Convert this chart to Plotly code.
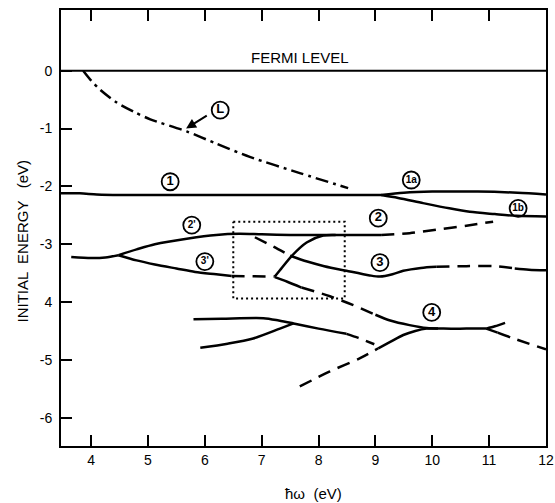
import plotly.graph_objects as go

# ---------------- data ----------------
fermi_x = [3.47, 12.0]
fermi_y = [0.0, 0.0]

L_x = [3.86, 4.0, 4.16, 4.45, 4.75, 5.04, 5.68, 6.2, 6.79, 7.67, 8.52]
L_y = [0.0, -0.17, -0.33, -0.55, -0.71, -0.84, -1.05, -1.26, -1.49, -1.77, -2.03]

band1_x = [3.47, 3.8, 4.1, 4.5, 5.5, 6.5, 7.5, 8.5, 9.1]
band1_y = [-2.12, -2.12, -2.14, -2.15, -2.15, -2.15, -2.15, -2.15, -2.15]
band1a_x = [9.1, 9.5, 10.0, 10.8, 11.5, 12.0]
band1a_y = [-2.15, -2.11, -2.09, -2.09, -2.11, -2.14]
band1b_x = [9.1, 9.4, 9.84, 10.3, 10.66, 11.1, 11.48, 12.0]
band1b_y = [-2.15, -2.2, -2.29, -2.38, -2.44, -2.48, -2.51, -2.52]

band23_x = [3.65, 4.0, 4.25, 4.48]
band23_y = [-3.22, -3.24, -3.23, -3.19]
band2p_x = [4.48, 4.8, 5.12, 5.71, 6.2, 6.6, 7.0, 7.5, 8.1, 8.6, 9.1]
band2p_y = [-3.19, -3.09, -3.0, -2.9, -2.84, -2.82, -2.83, -2.84, -2.84, -2.84, -2.84]
band2_dash_x = [9.1, 9.6, 10.07, 10.6, 11.07]
band2_dash_y = [-2.84, -2.81, -2.75, -2.68, -2.61]

band3p_x = [4.48, 4.8, 5.12, 5.5, 5.83, 6.2, 6.47]
band3p_y = [-3.19, -3.28, -3.35, -3.42, -3.48, -3.52, -3.55]
band3p_dash_x = [6.47, 7.23]
band3p_dash_y = [-3.55, -3.56]

steep_x = [7.23, 7.32, 7.53, 7.79, 8.08, 8.3]
steep_y = [-3.56, -3.45, -3.2, -2.97, -2.85, -2.84]

down_x = [7.23, 7.45, 7.7]
down_y = [-3.57, -3.65, -3.75]
down_dash_x = [7.7, 8.2, 8.6, 9.0]
down_dash_y = [-3.75, -3.9, -4.05, -4.22]
band4u_x = [9.0, 9.26, 9.6, 9.9, 10.2, 10.6, 10.95]
band4u_y = [-4.22, -4.32, -4.40, -4.45, -4.46, -4.46, -4.46]

band3_dash1_x = [6.88, 7.2, 7.5]
band3_dash1_y = [-2.88, -3.04, -3.2]
band3_x = [7.5, 7.8, 8.1, 8.49, 8.9, 9.08, 9.3, 9.49, 9.8, 10.07]
band3_y = [-3.2, -3.3, -3.38, -3.46, -3.54, -3.56, -3.52, -3.46, -3.41, -3.39]
band3_dash2_x = [10.07, 10.6, 11.1, 11.45]
band3_dash2_y = [-3.39, -3.38, -3.38, -3.42]
band3_end_x = [11.45, 11.7, 12.0]
band3_end_y = [-3.42, -3.44, -3.45]

band4a_x = [5.8, 6.3, 7.03, 7.3, 7.56, 8.0, 8.49]
band4a_y = [-4.30, -4.29, -4.28, -4.32, -4.37, -4.46, -4.55]
band4a_dash_x = [8.49, 8.7, 8.98]
band4a_dash_y = [-4.55, -4.62, -4.73]
band4b_x = [5.92, 6.4, 6.85, 7.32, 7.56]
band4b_y = [-4.79, -4.72, -4.63, -4.46, -4.37]
band4c_dash_x = [7.67, 8.2, 8.73, 9.05]
band4c_dash_y = [-5.46, -5.2, -4.97, -4.80]
band4c_x = [9.05, 9.26, 9.49, 9.7, 9.9, 10.1]
band4c_y = [-4.80, -4.69, -4.57, -4.50, -4.46, -4.46]
band4r_up_x = [10.95, 11.1, 11.28]
band4r_up_y = [-4.46, -4.42, -4.36]
band4r_dn_x = [10.95, 11.15]
band4r_dn_y = [-4.46, -4.53]
band4r_dash_x = [11.15, 11.4, 12.0]
band4r_dash_y = [-4.53, -4.62, -4.82]

box_x = [6.5, 8.46, 8.46, 6.5, 6.5]
box_y = [-2.61, -2.61, -3.94, -3.94, -2.61]

label_text = ["L", "1", "1a", "1b", "2'", "3'", "2", "3", "4"]
label_x = [6.27, 5.39, 9.63, 11.51, 5.77, 6.0, 9.05, 9.08, 9.99]
label_y = [-0.68, -1.92, -1.89, -2.38, -2.67, -3.30, -2.55, -3.32, -4.18]

arrow_head = (5.67, -1.0)
arrow_tail = (6.06, -0.76)

x_ticks = [4, 5, 6, 7, 8, 9, 10, 11, 12]
y_ticks = [0, -1, -2, -3, -4, -5, -6]
y_tick_text = ["0", "-1", "-2", "-3", "4", "-5", "-6"]

x_range = [3.47, 12.0]
y_range = [-6.49, 1.05]

# ---------------- figure ----------------
FONT = "Liberation Sans, Arial, sans-serif"
SOLID = dict(color="black", width=2.5)
DASH = dict(color="black", width=2.5, dash="13px,8px")

fig = go.Figure()

def add(x, y, line, shape="spline"):
    fig.add_trace(go.Scatter(x=x, y=y, mode="lines", line=dict(shape=shape, smoothing=0.8, **line),
                             hoverinfo="skip", showlegend=False))

add(fermi_x, fermi_y, dict(color="black", width=2), shape="linear")
add(L_x, L_y, dict(color="black", width=2.5, dash="13px,5px,3px,5px"))
for xs, ys in [(band1_x, band1_y), (band1a_x, band1a_y), (band1b_x, band1b_y),
               (band23_x, band23_y), (band2p_x, band2p_y), (band3p_x, band3p_y),
               (steep_x, steep_y), (down_x, down_y), (band4u_x, band4u_y),
               (band3_x, band3_y), (band3_end_x, band3_end_y),
               (band4a_x, band4a_y), (band4b_x, band4b_y), (band4c_x, band4c_y),
               (band4r_up_x, band4r_up_y), (band4r_dn_x, band4r_dn_y)]:
    add(xs, ys, SOLID)
for xs, ys in [(band2_dash_x, band2_dash_y), (band3p_dash_x, band3p_dash_y),
               (down_dash_x, down_dash_y), (band3_dash1_x, band3_dash1_y),
               (band3_dash2_x, band3_dash2_y), (band4a_dash_x, band4a_dash_y),
               (band4c_dash_x, band4c_dash_y), (band4r_dash_x, band4r_dash_y)]:
    add(xs, ys, DASH)

add(box_x, box_y, dict(color="black", width=2, dash="2px,3px"), shape="linear")

sizes = [13 if len(t) == 1 else 10 for t in label_text]
fig.add_trace(go.Scatter(
    x=label_x, y=label_y, mode="markers+text", text=label_text,
    textposition="middle center",
    textfont=dict(family=FONT, size=sizes, color="black", weight="bold"),
    marker=dict(symbol="circle-open", size=17, color="black", line=dict(width=1.8, color="black")),
    hoverinfo="skip", showlegend=False))

fig.add_annotation(x=arrow_head[0], y=arrow_head[1], ax=arrow_tail[0], ay=arrow_tail[1],
                   xref="x", yref="y", axref="x", ayref="y", text="", showarrow=True,
                   arrowhead=2, arrowsize=1, arrowwidth=2, arrowcolor="black")

fig.add_annotation(x=7.67, y=0.22, xref="x", yref="y", text="FERMI LEVEL", showarrow=False,
                   font=dict(family=FONT, size=15, color="black"))

fig.add_annotation(x=-0.079, y=0.4706, xref="paper", yref="paper", text="INITIAL  ENERGY   (eV)",
                   textangle=-90, showarrow=False, xanchor="center", yanchor="middle",
                   font=dict(family=FONT, size=15, color="black"))
fig.add_annotation(x=0.5196, y=-0.109, xref="paper", yref="paper", text="ħω  (eV)",
                   showarrow=False, xanchor="center", yanchor="middle",
                   font=dict(family=FONT, size=15, color="black"))

fig.update_xaxes(range=x_range, tickvals=x_ticks,
                 ticks="inside", ticklen=11, tickwidth=2, tickcolor="#000000",
                 showline=True, linewidth=2, linecolor="black", mirror="allticks",
                 showgrid=False, zeroline=False, automargin=False, ticklabeloverflow="allow",
                 tickfont=dict(family=FONT, size=14, color="black"))
fig.update_yaxes(range=y_range, tickvals=y_ticks, ticktext=y_tick_text,
                 ticks="inside", ticklen=11, tickwidth=2, tickcolor="#000000",
                 showline=True, linewidth=2, linecolor="black", mirror=True,
                 showgrid=False, zeroline=False, ticklabelstandoff=4, automargin=False,
                 tickfont=dict(family=FONT, size=14, color="black"))

fig.update_layout(width=555, height=503, margin=dict(l=61, r=9, t=10, b=57, autoexpand=False),
                  plot_bgcolor="white", paper_bgcolor="white", showlegend=False)

# remove the default 8px page margin so the figure fills the 555x503 window exactly
fig.write_html("out.html", config={"displayModeBar": False},
               post_script="document.body.style.margin='0';document.body.style.overflow='hidden';")
